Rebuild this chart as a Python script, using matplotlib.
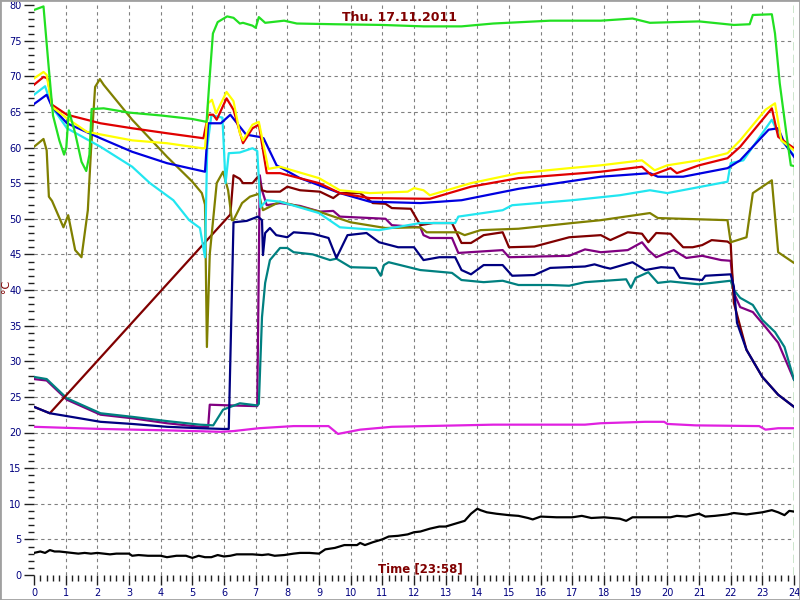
import matplotlib

matplotlib.use("Agg")
import matplotlib.pyplot as plt
from matplotlib.patches import Rectangle
from matplotlib.ticker import MultipleLocator

# hours of the day, temperatures in deg C
lime_t = [0, 0.3, 0.45, 0.6, 0.8, 0.95, 1.02, 1.1, 1.3, 1.5, 1.65, 1.75, 1.82, 2.2, 3.0, 4.0,
          5.0, 5.45, 5.55, 5.65, 5.8, 6.1, 6.3, 6.5, 6.6, 6.9, 7.0, 7.1, 7.3, 7.9, 8.3, 9.5,
          11.0, 12.3, 13.5, 14.5, 16.3, 17.9, 18.9, 19.45, 21.0, 22.1, 22.6, 22.7, 23.3,
          23.4, 23.55, 23.8, 23.9, 24.0]
lime_v = [79.3, 79.8, 72, 64.5, 61, 59, 60, 65.2, 62, 58, 56.7, 59, 65.4, 65.5, 64.9, 64.5,
          64.0, 63.6, 70, 76, 77.6, 78.4, 78.2, 77.4, 77.5, 77.1, 76.8, 78.3, 77.5, 77.8, 77.4,
          77.3, 77.2, 77.0, 77.0, 77.4, 77.8, 77.8, 78.1, 77.5, 77.7, 77.2, 77.3, 78.6, 78.7,
          76, 69, 60.6, 57.5, 57.4]

yellow_t = [0, 0.3, 0.4, 0.57, 1.04, 1.67, 3.1, 4.2, 5.3, 5.4, 5.5, 5.62, 5.75, 6.08, 6.3,
            6.5, 6.6, 6.9, 7.1, 7.4, 7.77, 9.0, 9.66, 10.6, 11.8, 12.0, 12.3, 12.5, 13.8,
            15.3, 16.9, 17.9, 19.2, 19.6, 20.0, 21.0, 21.9, 22.3, 23.1, 23.4, 23.6, 24.0]
yellow_v = [69.7, 70.6, 70.2, 65.7, 64.1, 62.2, 61.0, 60.6, 59.9, 59.9, 66.2, 66.7, 64.8,
            67.8, 66.5, 62, 61, 63.2, 63.6, 57.0, 57.3, 55.7, 54.0, 53.6, 53.8, 54.3, 54.0,
            53.3, 55.0, 56.4, 57.1, 57.5, 58.2, 56.8, 57.5, 58.2, 59.2, 61.0, 65.3, 66.2,
            61.0, 59.6]

red_t = [0, 0.3, 0.43, 0.57, 1.04, 2.1, 3.1, 4.2, 5.35, 5.5, 5.66, 5.77, 6.08, 6.3, 6.6,
         6.9, 7.1, 7.35, 7.77, 9.0, 9.66, 10.6, 12.5, 13.8, 15.3, 17.9, 19.2, 19.5, 20.1,
         20.3, 21.0, 21.9, 22.3, 23.3, 23.5, 24.0]
red_v = [68.8, 69.9, 69.7, 66.0, 64.6, 63.4, 62.7, 62.0, 61.3, 64.6, 64.6, 63.9, 66.9, 65.3,
         60.6, 62.7, 63.2, 56.4, 56.4, 55.0, 53.6, 52.9, 52.8, 54.5, 55.7, 56.6, 57.3, 56.1,
         57.1, 56.4, 57.5, 58.5, 60.1, 65.5, 61.5, 59.9]

blue_t = [0, 0.4, 0.57, 1.04, 2.1, 3.1, 4.2, 5.4, 5.5, 5.9, 6.2, 6.7, 7.1, 7.25, 7.66, 8.4,
          9.0, 9.66, 10.6, 12.2, 13.5, 15.3, 17.9, 19.45, 19.7, 20.5, 21.9, 22.3, 23.2, 23.5,
          23.7, 24.0]
blue_v = [66.1, 67.4, 65.7, 63.4, 61.3, 59.4, 57.8, 56.6, 63.4, 63.4, 64.6, 61.8, 61.5, 61.3,
          57.5, 55.7, 54.7, 53.6, 52.4, 52.2, 52.6, 54.2, 55.9, 56.4, 55.9, 55.9, 57.1, 58.2,
          62.5, 62.7, 60.6, 58.7]

cyan_t = [0, 0.35, 0.57, 1.04, 2.1, 3.1, 3.66, 4.4, 4.9, 5.24, 5.4, 5.47, 5.6, 5.95, 6.05,
          6.15, 6.5, 6.9, 7.05, 7.15, 7.35, 7.77, 9.0, 9.66, 10.9, 12.2, 13.3, 13.4, 14.8,
          15.1, 17.0, 18.5, 19.45, 20.0, 21.9, 22.0, 22.4, 23.3, 23.6, 24.0]
cyan_v = [67.4, 68.6, 65.7, 62.7, 60.1, 57.3, 55.0, 52.6, 49.8, 48.7, 44.6, 60, 64.5, 64.2,
          55.0, 59.2, 59.3, 59.9, 59.5, 51.6, 52.6, 52.4, 50.8, 48.8, 48.4, 49.4, 49.4, 50.3,
          51.2, 51.9, 52.6, 53.3, 54.0, 53.6, 55.2, 57.8, 58.2, 63.9, 61.0, 58.9]

olive_t = [0, 0.3, 0.4, 0.47, 0.57, 0.93, 1.08, 1.3, 1.5, 1.7, 1.8, 1.93, 2.08, 2.2, 3.1,
           4.2, 5.0, 5.3, 5.4, 5.46, 5.55, 5.77, 5.97, 6.13, 6.25, 6.3, 6.57, 6.82, 7.1, 7.23,
           7.77, 9.0, 10.0, 11.1, 12.2, 12.4, 13.4, 13.6, 14.1, 15.3, 17.0, 17.9, 19.45,
           19.7, 21.9, 22.0, 22.5, 22.7, 23.3, 23.5, 24.0]
olive_v = [60.1, 61.2, 59.6, 53.1, 52.5, 48.8, 50.5, 45.6, 44.6, 51.2, 59.6, 68.5, 69.6,
           68.8, 63.9, 58.7, 55.2, 53.6, 52.0, 32.0, 45, 55.0, 56.6, 54.0, 49.8, 49.8, 52.2,
           53.1, 53.5, 51.2, 52.4, 51.0, 49.5, 48.7, 48.8, 48.1, 48.1, 47.7, 48.4, 48.6,
           49.4, 49.8, 50.8, 50.1, 49.8, 46.7, 47.4, 53.6, 55.4, 45.3, 43.8]

maroon_t = [0, 0.5, 6.2, 6.3, 6.5, 6.6, 6.9, 7.07, 7.2, 7.35, 7.77, 8.0, 8.4, 9.03, 9.45,
            9.66, 10.3, 10.7, 11.1, 11.3, 11.9, 12.2, 12.6, 13.2, 13.5, 13.8, 14.2, 14.8,
            15.0, 15.8, 16.9, 17.9, 18.2, 18.75, 19.2, 19.4, 19.65, 20.1, 20.5, 20.8, 21.1,
            21.4, 21.9, 22.0, 22.1, 22.5, 23.0, 23.5, 24.0]
maroon_v = [23.6, 22.7, 50.6, 56.1, 55.6, 55.0, 55.0, 55.9, 54.0, 53.8, 53.8, 54.5, 54.0,
            53.8, 52.9, 53.6, 53.6, 52.2, 52.1, 51.5, 51.4, 49.1, 49.4, 49.4, 46.6, 46.6,
            47.7, 48.1, 46.0, 46.1, 47.4, 47.7, 47.0, 48.1, 47.9, 46.7, 48.0, 47.9, 46.0,
            46.0, 46.3, 47.0, 46.8, 46.5, 38.2, 31.6, 27.8, 25.3, 23.6]

purple_t = [0, 0.4, 1.04, 2.1, 3.1, 4.2, 5.24, 5.5, 5.55, 6.2, 7.05, 7.13, 7.2, 7.35, 7.77,
            8.4, 9.03, 9.45, 9.66, 11.1, 11.3, 12.2, 12.3, 12.5, 13.2, 13.4, 14.8, 15.0,
            16.9, 17.4, 17.9, 18.75, 19.2, 19.4, 19.65, 20.2, 20.6, 21.1, 21.7, 22.0, 22.1,
            22.3, 22.7, 23.1, 23.5, 24.0]
purple_v = [27.5, 27.3, 24.6, 22.5, 22.0, 21.3, 20.8, 20.8, 23.9, 23.8, 23.7, 56.1, 54.0,
            51.9, 52.2, 51.8, 51.0, 51.1, 50.3, 50.0, 49.1, 48.8, 47.7, 47.3, 47.3, 45.2,
            45.6, 44.6, 44.8, 45.7, 45.3, 45.6, 46.7, 45.6, 44.6, 45.6, 44.5, 44.8, 44.2,
            44.1, 39.6, 37.6, 36.9, 34.8, 32.6, 27.4]

navy_t = [0, 0.5, 1.04, 2.1, 3.1, 4.2, 5.24, 5.97, 6.15, 6.3, 6.72, 7.07, 7.2, 7.23, 7.3,
          7.45, 7.65, 8.0, 8.2, 8.8, 9.3, 9.55, 9.9, 10.5, 10.9, 11.5, 12.0, 12.3, 12.8, 13.3,
          13.5, 13.8, 14.2, 14.8, 15.1, 15.8, 16.3, 17.4, 17.7, 18.0, 18.2, 18.9, 19.3, 19.8,
          20.2, 20.4, 21.1, 21.2, 22.0, 22.1, 22.2, 22.5, 23.0, 23.5, 24.0]
navy_v = [23.6, 22.7, 22.3, 21.5, 21.2, 20.8, 20.6, 20.5, 20.5, 49.5, 49.7, 50.3, 49.8, 44.9,
          48.0, 48.7, 47.7, 47.4, 48.1, 47.9, 47.3, 44.5, 47.7, 48.0, 46.7, 46.0, 46.0, 44.2,
          44.6, 44.6, 42.8, 42.2, 43.5, 43.5, 42.0, 42.1, 43.1, 43.3, 43.6, 43.2, 43.0, 43.9,
          42.8, 43.2, 43.1, 41.7, 41.4, 42.0, 42.2, 40.5, 35.4, 31.6, 27.8, 25.3, 23.6]

teal_t = [0, 0.4, 1.04, 2.1, 3.1, 4.2, 5.24, 5.66, 5.97, 6.5, 7.05, 7.1, 7.2, 7.3, 7.45,
          7.77, 8.0, 8.2, 8.8, 9.35, 9.55, 10.0, 10.8, 10.95, 11.05, 11.2, 12.2, 13.2, 13.5,
          14.2, 14.8, 15.3, 16.3, 16.9, 17.4, 18.7, 18.85, 19.0, 19.4, 19.7, 20.1, 21.0,
          22.0, 22.1, 22.3, 22.7, 23.0, 23.4, 23.7, 24.0]
teal_v = [27.8, 27.5, 24.8, 22.7, 22.2, 21.6, 21.1, 21.0, 23.2, 24.1, 23.8, 24.0, 36.2, 41.0,
          44.2, 45.9, 45.9, 45.3, 45.0, 44.2, 44.4, 43.2, 43.1, 42.0, 43.5, 43.9, 42.8, 42.4,
          41.4, 41.1, 41.3, 40.7, 40.7, 40.6, 41.1, 41.5, 40.3, 41.7, 42.5, 41.0, 41.2, 40.8,
          41.3, 40.0, 38.9, 37.9, 35.8, 34.1, 32.0, 27.4]

magenta_t = [0, 2.1, 4.2, 5.9, 6.3, 7.1, 8.2, 9.3, 9.6, 10.3, 11.3, 14.5, 17.4, 17.9, 19.3,
             19.9, 20.0, 20.9, 22.9, 23.1, 23.5, 24.0]
magenta_v = [20.8, 20.5, 20.3, 20.1, 20.2, 20.6, 20.9, 20.9, 19.8, 20.4, 20.8, 21.1, 21.1,
             21.3, 21.5, 21.5, 21.2, 21.0, 20.9, 20.4, 20.6, 20.6]

black_t = [0, 0.2, 0.35, 0.5, 0.65, 0.8, 1.0, 1.2, 1.4, 1.6, 1.8, 2.0, 2.2, 2.4, 2.6, 2.8,
           3.0, 3.1, 3.3, 3.6, 4.0, 4.2, 4.5, 4.8, 5.0, 5.2, 5.4, 5.6, 5.8, 6.0, 6.2, 6.4,
           6.6, 6.9, 7.2, 7.4, 7.6, 7.9, 8.2, 8.4, 8.7, 9.0, 9.2, 9.5, 9.8, 10.2, 10.3,
           10.45, 10.7, 11.0, 11.2, 11.5, 11.8, 12.0, 12.2, 12.5, 12.8, 13.0, 13.3, 13.6,
           13.8, 14.0, 14.1, 14.3, 14.6, 15.0, 15.3, 15.6, 15.75, 16.0, 16.5, 17.0, 17.3,
           17.6, 18.0, 18.5, 18.7, 18.9, 19.5, 20.1, 20.3, 20.6, 21.0, 21.2, 21.5, 21.9,
           22.1, 22.5, 23.0, 23.3, 23.5, 23.7, 23.85, 24.0]
black_v = [3.1, 3.3, 3.1, 3.5, 3.3, 3.3, 3.2, 3.1, 3.0, 3.1, 3.0, 3.1, 3.0, 2.9, 3.0, 3.0,
           3.0, 2.7, 2.8, 2.7, 2.7, 2.5, 2.7, 2.7, 2.4, 2.7, 2.5, 2.5, 2.8, 2.6, 2.7, 2.9,
           2.9, 2.9, 2.8, 2.9, 2.7, 2.8, 3.0, 3.1, 3.1, 3.0, 3.6, 3.8, 4.2, 4.2, 4.5, 4.2,
           4.6, 5.0, 5.4, 5.5, 5.7, 6.0, 6.1, 6.5, 6.8, 6.8, 7.2, 7.6, 8.6, 9.3, 9.1, 8.8,
           8.6, 8.4, 8.3, 8.0, 7.8, 8.2, 8.1, 8.1, 8.3, 8.0, 8.1, 7.9, 7.6, 8.1, 8.1, 8.1,
           8.3, 8.2, 8.6, 8.2, 8.3, 8.5, 8.7, 8.5, 8.8, 9.1, 8.8, 8.4, 9.0, 8.9]

series = [
    (black_t, black_v, "#000000"),
    (magenta_t, magenta_v, "#e020e0"),
    (purple_t, purple_v, "#800080"),
    (teal_t, teal_v, "#008080"),
    (maroon_t, maroon_v, "#800000"),
    (navy_t, navy_v, "#000080"),
    (olive_t, olive_v, "#808000"),
    (cyan_t, cyan_v, "#22e6f0"),
    (blue_t, blue_v, "#0000e0"),
    (red_t, red_v, "#e00000"),
    (yellow_t, yellow_v, "#ffff00"),
    (lime_t, lime_v, "#22e022"),
]

fig = plt.figure(figsize=(8, 6), dpi=100)
ax = fig.add_axes([34 / 800, 25 / 600, 760 / 800, 570 / 600])

# grid, skipping the outer lines like the logger software does
for h in range(1, 24):
    ax.axvline(h, color="#808080", lw=0.8, ls=(0, (3, 3)), zorder=0)
for t in range(5, 80, 5):
    ax.axhline(t, color="#808080", lw=0.8, ls=(0, (3, 3)), zorder=0)
ax.axvline(24, color="#008000", lw=1.0, ls=(0, (6, 3)), zorder=0)

for t, v, c in series:
    ax.plot(t, v, color=c, lw=1.6, solid_joinstyle="round")

ax.set_xlim(0, 24)
ax.set_ylim(0, 80)
for s in ax.spines.values():
    s.set_visible(False)

ax.xaxis.set_major_locator(MultipleLocator(1))
ax.xaxis.set_minor_locator(MultipleLocator(0.2))
ax.yaxis.set_major_locator(MultipleLocator(5))
ax.yaxis.set_minor_locator(MultipleLocator(1))
ax.tick_params(which="major", length=7, width=1, color="#202020", labelsize=7,
               labelcolor="#000080", pad=2)
ax.tick_params(which="minor", length=4, width=1, color="#202020")

ax.text(0.481, 0.978, "Thu. 17.11.2011", transform=ax.transAxes, ha="center",
        va="center", fontsize=9, fontweight="bold", color="#800000")
ax.text(0.508, 0.011, "Time [23:58]", transform=ax.transAxes, ha="center",
        va="center", fontsize=8.5, fontweight="bold", color="#800000")
fig.text(0.008, 0.522, "°C", rotation=90, ha="center", va="center", fontsize=8,
         color="#800000")

fig.patches.append(Rectangle((0, 0), 1, 1, transform=fig.transFigure, fill=False,
                             edgecolor="#a0a0a0", lw=2))

fig.savefig("out.png", dpi=100)
